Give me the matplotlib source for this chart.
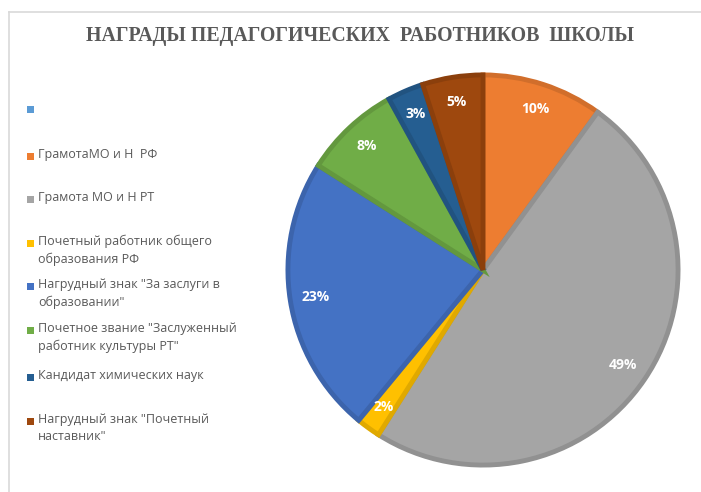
import numpy as np
import matplotlib
matplotlib.use('Agg')
import matplotlib.pyplot as plt
from matplotlib.patches import Rectangle
from matplotlib.lines import Line2D

###########################################################
# data

title = 'НАГРАДЫ ПЕДАГОГИЧЕСКИХ  РАБОТНИКОВ  ШКОЛЫ'
labels = ['',
          'ГрамотаМО и Н  РФ',
          'Грамота МО и Н РТ',
          'Почетный работник общего\nобразования РФ',
          'Нагрудный знак "За заслуги в\nобразовании"',
          'Почетное звание "Заслуженный\nработник культуры РТ"',
          'Кандидат химических наук',
          'Нагрудный знак "Почетный\nнаставник"']
values = [0, 10, 49, 2, 23, 8, 3, 5]
colors = ['#5B9BD5', '#ED7D31', '#A5A5A5', '#FFC000',
          '#4472C4', '#70AD47', '#255E91', '#9E480E']

# legend rows (pixel y of first line, from top)
legend_y = [110, 157, 200, 244, 287, 331, 378, 422]

###########################################################
# figure

W, H = 701, 492
fig = plt.figure(figsize=(W / 100, H / 100), dpi=100)

# chart area border (top and left edges visible)
fig.add_artist(Line2D([9 / W, 1], [1 - 12 / H, 1 - 12 / H], color='#D9D9D9', lw=1.2))
fig.add_artist(Line2D([9 / W, 9 / W], [0, 1 - 12 / H], color='#D9D9D9', lw=1.2))

fig.text(360 / W, 1 - 36 / H, title, ha='center', va='center',
         family='Liberation Serif', weight='bold', fontsize=14.3, color='#595959')

# pie
cx, cy, half = 483, 270, 200
ax = fig.add_axes([(cx - half) / W, (H - cy - half) / H, 2 * half / W, 2 * half / H])

vals = np.array(values, dtype=float)
mask = vals > 0
pie_colors = [c for c, m in zip(colors, mask) if m]
edge_colors = [tuple(np.array(matplotlib.colors.to_rgb(c)) * 0.88) for c in pie_colors]

wedges, texts, autotexts = ax.pie(vals[mask], colors=pie_colors, startangle=90,
                                  counterclock=False, autopct='%1.0f%%',
                                  pctdistance=0.87, radius=0.99,
                                  wedgeprops=dict(linewidth=3.5))
for w, ec in zip(wedges, edge_colors):
    w.set_edgecolor(ec)
for t in autotexts:
    t.set_color('white')
    t.set_fontsize(10)
    t.set_fontweight('bold')
    t.set_family('Open Sans')
ax.set_xlim(-1.015, 1.015)
ax.set_ylim(-1.015, 1.015)
ax.set_aspect('equal')
ax.axis('off')

# legend
for lab, col, y in zip(labels, colors, legend_y):
    fig.add_artist(Rectangle((27 / W, 1 - (y + 3) / H), 7 / W, 7 / H,
                             facecolor=col, edgecolor='none'))
    fig.text(38 / W, 1 - (y - 9) / H, lab, ha='left', va='top',
             family='Open Sans', fontsize=9, color='#595959', linespacing=1.45)

fig.savefig('out.png', dpi=100)
